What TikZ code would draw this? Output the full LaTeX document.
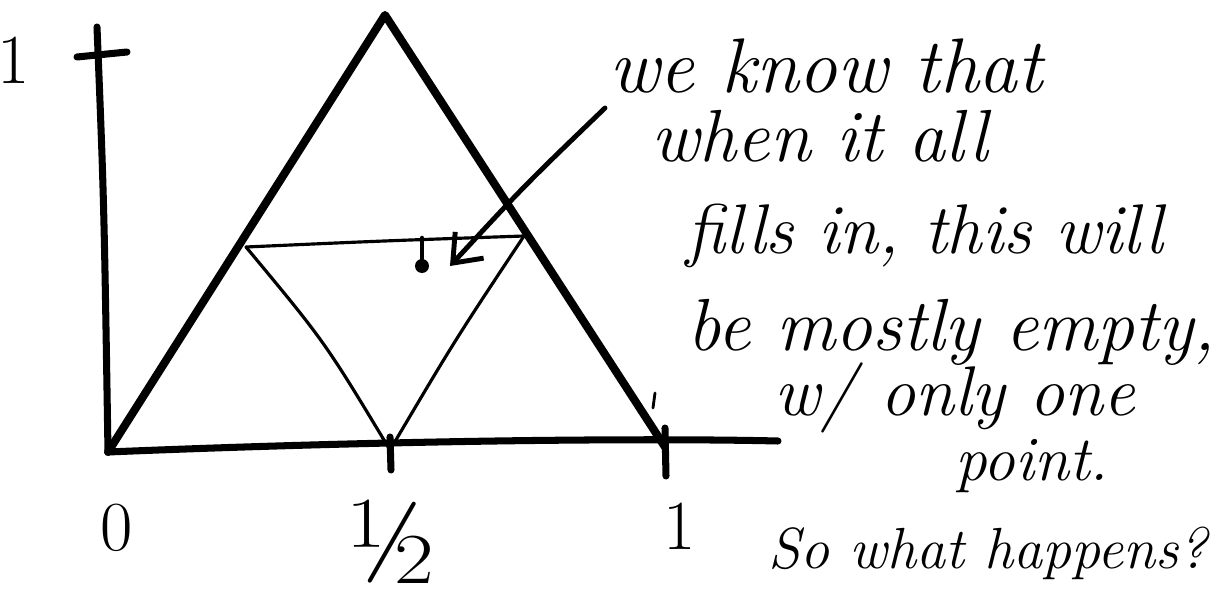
\documentclass[tikz,border=0pt]{standalone}
\usepackage{fontspec}
\usetikzlibrary{arrows.meta}
\tikzstyle{pen} = [draw,line width=2pt,line cap=round,line join=round]
\tikzstyle{thinpen} = [draw,line width=0.9pt,line cap=round,line join=round]
\tikzstyle{note} = [font=\fontsize{20}{24}\selectfont\itshape,inner sep=0pt]
\tikzstyle{axislabel} = [font=\fontsize{20}{24}\selectfont,inner sep=0pt]

\begin{document}
\begin{tikzpicture}[x=0.01cm,y=-0.01cm]
    \useasboundingbox (0,0) rectangle (1226,603);
    % axes
    \coordinate (ytop) at (97,27);
    \coordinate (0) at (108,452);
    \coordinate (xend) at (778,441);
    \coordinate (apex) at (385,15);
    \coordinate (1) at (665,447);
    \draw[pen] (ytop) .. controls (104,200) .. (0);
    \draw[pen] (0) .. controls (400,440) and (650,438) .. (xend);
    \draw[pen] (77,57) -- (127,52);
    \draw[pen] (390,437) -- (391,470);
    \draw[pen] (665,428) -- (666,476);
    % outer triangle
    \draw[pen,line width=2.3pt] (0) -- (apex) -- (1);
    % inner triangle
    \coordinate (ml) at (246,247);
    \coordinate (mr) at (524,236);
    \coordinate (mb) at (390,450);
    \draw[thinpen] (ml) .. controls (380,241) .. (mr);
    \draw[thinpen] (ml) .. controls (325,342) .. (mb);
    \draw[thinpen] (mb) .. controls (455,340) .. (mr);
    % the point
    \coordinate (pt) at (422,266);
    \draw[thinpen,line width=1.3pt] (422,238) -- (pt);
    \fill (pt) circle[radius=7];
    \draw[thinpen,line width=0.8pt] (655,393) -- (653,408);
    % labels
    \node[axislabel] (l1) at (14,60) {1};
    \node[axislabel] (l0) at (117,528) {0};
    \node[axislabel,font=\fontsize{34}{40}\selectfont] (lhalf) at (392,542) {½};
    \node[axislabel] (lone) at (680,526) {1};
    % note
    \node[note,font=\fontsize{22}{26}\selectfont\itshape] (t1) at (826,66) {we know that};
    \node[note,font=\fontsize{21}{26}\selectfont\itshape] (t2) at (820,136) {when it all};
    \node[note] (t3) at (925,236) {fills in, this will};
    \node[note,font=\fontsize{21}{26}\selectfont\itshape] (t4) at (952,332) {be mostly empty,};
    \node[note] (t5) at (955,398) {w/ only one};
    \node[note,font=\fontsize{18}{22}\selectfont\itshape] (t6) at (1032,466) {point.};
    \node[note,font=\fontsize{16.5}{20}\selectfont\itshape] (t7) at (988,553) {So what happens?};
    \coordinate (arrstart) at (605,108);
    \draw[thinpen,line width=1.4pt,-{Straight Barb[length=7pt,width=11pt]}] (arrstart) .. controls (525,185) .. (450,266);
\end{tikzpicture}
\end{document}
